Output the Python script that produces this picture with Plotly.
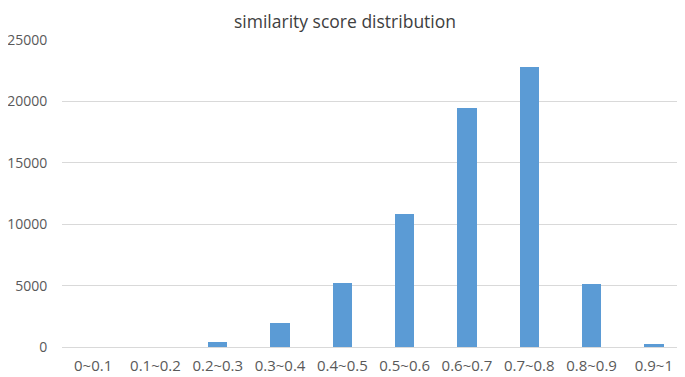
import plotly.graph_objects as go

categories = ["0~0.1", "0.1~0.2", "0.2~0.3", "0.3~0.4", "0.4~0.5",
              "0.5~0.6", "0.6~0.7", "0.7~0.8", "0.8~0.9", "0.9~1"]
counts = [0, 0, 430, 1930, 5240, 10850, 19450, 22800, 5150, 250]
y_ticks = [0, 5000, 10000, 15000, 20000, 25000]
y_tick_labels = ["0", "5000", "10000", "15000", "20000", "25000"]

# the page body adds an 8px offset, so margins compensate for it
fig = go.Figure(go.Bar(
    x=categories, y=counts, width=0.31,
    marker=dict(color="#5b9bd5", line=dict(width=0)),
))

fig.update_layout(
    width=685, height=377,
    margin=dict(l=54, r=8, t=32, b=38, autoexpand=False),
    paper_bgcolor="white", plot_bgcolor="white",
    title=dict(text="similarity score distribution", x=0.492, xanchor="center",
               y=0.963, yanchor="middle", xref="container", yref="container",
               font=dict(family="Open Sans", size=17.5, color="#404040")),
    font=dict(family="Open Sans", size=15, color="#595959"),
    showlegend=False,
    bargap=0,
)
fig.update_xaxes(showgrid=False, showline=True, linecolor="#d9d9d9", linewidth=1,
                 ticks="outside", ticklen=5, tickcolor="rgba(0,0,0,0)", automargin=False,
                 tickfont=dict(size=15, color="#595959"))
fig.update_yaxes(range=[0, 25000], tickvals=y_ticks, ticktext=y_tick_labels,
                 showgrid=True, gridcolor="#d9d9d9", automargin=False,
                 gridwidth=1, zeroline=False, showline=False,
                 ticks="outside", ticklen=11, tickcolor="rgba(0,0,0,0)",
                 tickfont=dict(size=14, color="#595959"))

fig.write_html("out.html")
